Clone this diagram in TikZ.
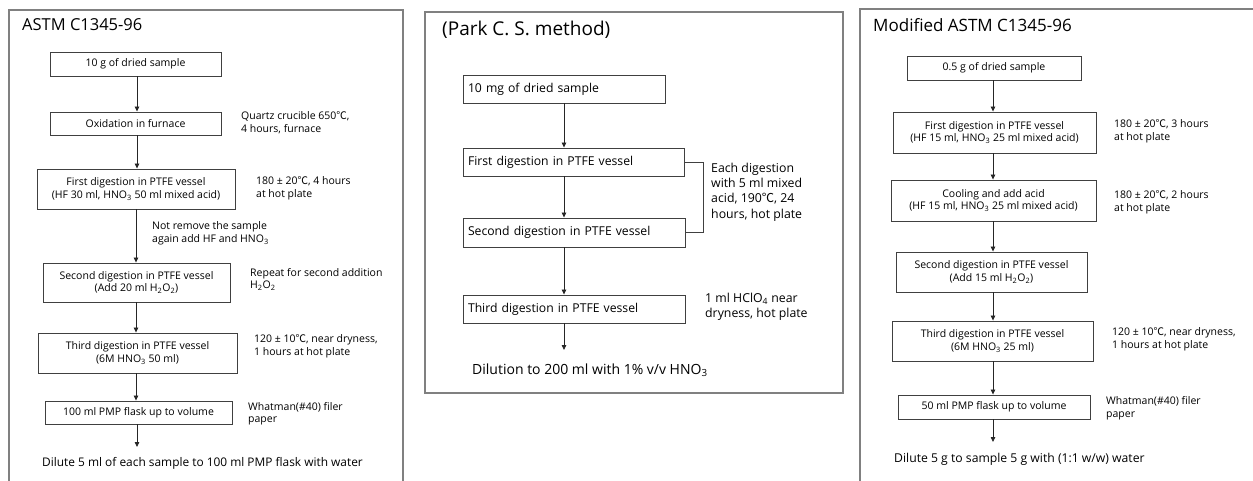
\documentclass[tikz,border=0pt]{standalone}
\usepackage{fontspec}
\setmainfont{Open Sans}
\newfontfamily\cjkfont{Noto Sans CJK KR}
\usetikzlibrary{arrows.meta}
\newcommand{\dC}{{\cjkfont ℃}}
\newcommand{\sbs}[1]{\textsubscript{#1}}
\begin{document}
\begin{tikzpicture}[x=1pt,y=-1pt,
  frame/.style={draw=black!50, line width=1.3pt},
  box/.style={draw=black!75, line width=0.9pt, inner sep=0pt, align=center, text=black},
  sbox/.style={box, font=\fontsize{10.5}{12.5}\selectfont},
  pbox/.style={box, font=\fontsize{12.2}{14}\selectfont, align=left, text width=#1, inner xsep=0pt},
  side/.style={inner sep=0pt, align=left, anchor=west, text=black, font=\fontsize{10.5}{12.5}\selectfont},
  pside/.style={inner sep=0pt, align=left, anchor=west, text=black, font=\fontsize{12.3}{15.3}\selectfont},
  final/.style={inner sep=0pt, anchor=west, text=black, font=\fontsize{11.9}{14}\selectfont},
  cfinal/.style={final, font=\fontsize{12.2}{14}\selectfont},
  pfinal/.style={inner sep=0pt, anchor=west, text=black, font=\fontsize{14}{16}\selectfont},
  title/.style={inner sep=0pt, anchor=west, text=black},
  arr/.style={draw=black!85, line width=0.8pt, -{Triangle[length=5pt,width=4.5pt]}},
  con/.style={draw=black!75, line width=0.9pt}]
\useasboundingbox (0,0) rectangle (1253,481);

% ---------------- Panel 1 ----------------
\draw[frame] (9,481) -- (9,10) -- (403,10) -- (403,481);
\node[title, font=\fontsize{16.5}{18}\selectfont] (t1) at (22,25) {ASTM C1345-96};

\node[sbox, minimum width=171, minimum height=24] (a1) at (135.5,64) {10 g of dried sample};
\node[sbox, minimum width=171, minimum height=23] (a2) at (135.5,123.5) {Oxidation in furnace};
\node[sbox, minimum width=198, minimum height=40] (a3) at (136,189) {First digestion in PTFE vessel\\(HF 30 ml, HNO\sbs{3} 50 ml mixed acid)};
\node[sbox, minimum width=187, minimum height=39] (a4) at (136.5,282.5) {Second digestion in PTFE vessel\\(Add 20 ml H\sbs{2}O\sbs{2})};
\node[sbox, minimum width=199, minimum height=40] (a5) at (137.5,353) {Third digestion in PTFE vessel\\(6M HNO\sbs{3} 50 ml)};
\node[sbox, minimum width=187, minimum height=23] (a6) at (138.5,412.5) {100 ml PMP flask up to volume};
\coordinate (a7) at (137,447);
\node[final] (af) at (42,463) {Dilute 5 ml of each sample to 100 ml PMP flask with water};

\node[side] (s2) at (241,122.5) {Quartz crucible 650\dC,\\4 hours, furnace};
\node[side] (s3) at (256,188.5) {180 ± 20\dC, 4 hours\\at hot plate};
\node[side] (s34) at (152,233.5) {Not remove the sample\\again add HF and HNO\sbs{3}};
\node[side] (s4) at (250,279.5) {Repeat for second addition\\H\sbs{2}O\sbs{2}};
\node[side] (s5) at (254,346.5) {120 ± 10\dC, near dryness,\\1 hours at hot plate};
\node[side] (s6) at (248,413.5) {Whatman(\#40) filer\\paper};

\draw[arr] (a1.south -| a7) -- (a2.north -| a7);
\draw[arr] (a2.south -| a7) -- (a3.north -| a7);
\draw[arr] (a3.south -| 136,0) -- (a4.north -| 136,0);
\draw[arr] (a4.south -| 136,0) -- (a5.north -| 136,0);
\draw[arr] (a5.south -| 136,0) -- (a6.north -| 136,0);
\draw[arr] (a6.south -| a7) -- (a7);

% ---------------- Panel 2 ----------------
\draw[frame] (425,12) rectangle (843,393);
\node[title, font=\fontsize{19}{21}\selectfont] (t2) at (442,30) {(Park C. S. method)};

\node[pbox=192pt, minimum width=202, minimum height=28] (b1) at (564,89) {10 mg of dried sample};
\node[pbox=211pt, minimum width=221, minimum height=28] (b2) at (573.5,162) {First digestion in PTFE vessel};
\node[pbox=212pt, minimum width=222, minimum height=29] (b3) at (574,232.5) {Second digestion in PTFE vessel};
\node[pbox=212pt, minimum width=222, minimum height=28] (b4) at (574,309) {Third digestion in PTFE vessel};
\coordinate (b5) at (564,350);
\node[pfinal] (bf) at (472,370) {Dilution to 200 ml with 1\% v/v HNO\sbs{3}};

\node[pside] (p23) at (711,192) {Each digestion\\with 5 ml mixed\\acid, 190\dC, 24\\hours, hot plate};
\node[pside] (p4) at (705,307) {1 ml HClO\sbs{4} near\\dryness, hot plate};

\draw[con] (b2.east) -- ++(19,0) |- (b3.east);
\draw[arr] (b1.south) -- (b1.south |- b2.north);
\draw[arr] (b2.south -| b5) -- (b3.north -| b5);
\draw[arr] (b3.south -| b5) -- (b4.north -| b5);
\draw[arr] (b4.south -| b5) -- (b5);

% ---------------- Panel 3 ----------------
\draw[frame] (1253,9) -- (860,9) -- (860,481);
\node[title, font=\fontsize{17}{19}\selectfont] (t3) at (873,25) {Modified ASTM C1345-96};

\node[sbox, minimum width=174, minimum height=24] (c1) at (994,68) {0.5 g of dried sample};
\node[sbox, minimum width=203, minimum height=41] (c2) at (994.5,132.5) {First digestion in PTFE vessel\\(HF 15 ml, HNO\sbs{3} 25 ml mixed acid)};
\node[sbox, minimum width=205, minimum height=41] (c3) at (993.5,200.5) {Cooling and add acid\\(HF 15 ml, HNO\sbs{3} 25 ml mixed acid)};
\node[sbox, minimum width=191, minimum height=40] (c4) at (991.5,272) {Second digestion in PTFE vessel\\(Add 15 ml H\sbs{2}O\sbs{2})};
\node[sbox, minimum width=201, minimum height=40] (c5) at (992.5,341) {Third digestion in PTFE vessel\\(6M HNO\sbs{3} 25 ml)};
\node[sbox, minimum width=192, minimum height=24] (c6) at (994,407) {50 ml PMP flask up to volume};
\coordinate (c7) at (993,442);
\node[cfinal] (cf) at (894,459) {Dilute 5 g to sample 5 g with (1:1 w/w) water};

\node[side] (r2) at (1114,131.5) {180 ± 20\dC, 3 hours\\at hot plate};
\node[side] (r3) at (1114,202.5) {180 ± 20\dC, 2 hours\\at hot plate};
\node[side] (r5) at (1112,339.5) {120 ± 10\dC, near dryness,\\1 hours at hot plate};
\node[side] (r6) at (1106,408) {Whatman(\#40) filer\\paper};

\draw[arr] (c1.south -| c7) -- (c2.north -| c7);
\draw[arr] (c2.south -| c7) -- (c3.north -| c7);
\draw[arr] (c3.south -| c7) -- (c4.north -| c7);
\draw[arr] (c4.south -| c7) -- (c5.north -| c7);
\draw[arr] (c5.south -| c7) -- (c6.north -| c7);
\draw[arr] (c6.south -| c7) -- (c7);
\end{tikzpicture}
\end{document}
